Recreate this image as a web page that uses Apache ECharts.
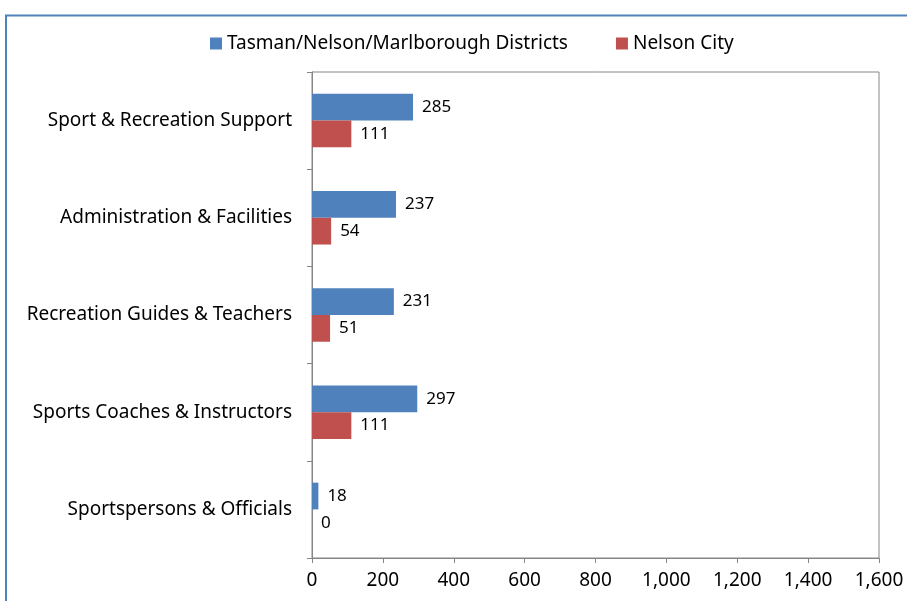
<!doctype html>
<html>
<head>
  <meta charset="utf-8">
  <title>Sport and recreation workforce</title>
  <script src="https://cdn.jsdelivr.net/npm/echarts@6/dist/echarts.min.js"></script>
  <style>
    html, body { margin: 0; padding: 0; background: #fff; }
    #chart { width: 907px; height: 601px; }
  </style>
</head>
<body>
<div id="chart"></div>
<script type="text/javascript">
  // categories listed bottom to top (category axis on y starts at the bottom)
  var categories = ['Sportspersons & Officials', 'Sports Coaches & Instructors', 'Recreation Guides & Teachers', 'Administration & Facilities', 'Sport & Recreation Support'];
  var tasmanValues = [18, 297, 231, 237, 285];
  var nelsonValues = [0, 111, 51, 54, 111];
  var seriesNames = ['Tasman/Nelson/Marlborough Districts', 'Nelson City'];
  var xTicks = [0, 200, 400, 600, 800, 1000, 1200, 1400, 1600];

  var font = 'Noto Sans';
  var chart = echarts.init(document.getElementById('chart'));

  var labelStyle = {
    show: true,
    position: 'right',
    distance: 9,
    color: '#000',
    fontFamily: font,
    fontSize: 17
  };

  var option = {
    animation: false,
    graphic: [{
      // outer chart frame (blue, only left and top visible)
      type: 'polyline',
      shape: { points: [[6, 601], [6, 15.5], [907, 15.5]] },
      style: { stroke: '#4f81bd', lineWidth: 2, fill: null }
    }],
    legend: {
      data: seriesNames,
      top: 29,
      left: 205,
      itemWidth: 12,
      itemHeight: 12,
      itemGap: 48,
      icon: 'rect',
      textStyle: { fontFamily: font, fontSize: 19, color: '#000' }
    },
    grid: {
      left: 312,
      right: 28,
      top: 72,
      bottom: 43,
      show: true,
      borderColor: '#868686',
      borderWidth: 1,
      containLabel: false
    },
    xAxis: {
      type: 'value',
      min: 0,
      max: 1600,
      interval: 200,
      splitLine: { show: false },
      axisLine: { show: true, lineStyle: { color: '#868686' } },
      axisTick: { show: true, length: 5, lineStyle: { color: '#868686' } },
      axisLabel: {
        margin: 13,
        color: '#000',
        fontFamily: font,
        fontSize: 19,
        formatter: function (v) { return xTicks.indexOf(v) >= 0 ? v.toLocaleString('en-US') : ''; }
      }
    },
    yAxis: {
      type: 'category',
      data: categories,
      axisLine: { show: true, lineStyle: { color: '#868686' } },
      axisTick: { show: true, length: 5, alignWithLabel: false, lineStyle: { color: '#868686' } },
      axisLabel: { margin: 20, color: '#000', fontFamily: font, fontSize: 19 },
      splitLine: { show: false }
    },
    series: [{
      name: seriesNames[0],
      type: 'bar',
      data: tasmanValues,
      barGap: '0%',
      barCategoryGap: '45%',
      itemStyle: { color: '#4f81bd' },
      label: labelStyle
    }, {
      name: seriesNames[1],
      type: 'bar',
      data: nelsonValues,
      itemStyle: { color: '#c0504d' },
      label: labelStyle
    }]
  };
  chart.setOption(option);
</script>
</body>
</html>
